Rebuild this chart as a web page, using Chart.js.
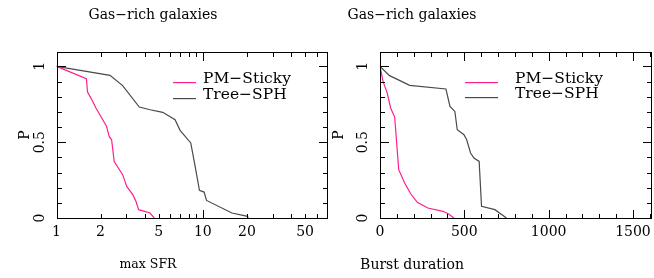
<!DOCTYPE html>
<html>
<head>
<meta charset="utf-8">
<script src="https://cdn.jsdelivr.net/npm/chart.js@4.4.1/dist/chart.umd.min.js"></script>
<style>
  body { margin: 0; background: #fff; }
  .panel { position: absolute; top: 0; height: 278px; }
</style>
</head>
<body>
<div class="panel" style="left:0;width:330px"><canvas id="sfrChart"></canvas></div>
<div class="panel" style="left:330px;width:324px"><canvas id="burstChart"></canvas></div>
<script>
// left panel: max SFR (log axis)
const pmSfrX = [1, 1.60, 1.63, 1.72, 1.86, 2.07, 2.20, 2.29, 2.38, 2.48, 2.83, 3.02, 3.32, 3.49, 3.64, 4.36, 4.66];
const pmSfrY = [1, 0.919, 0.831, 0.791, 0.726, 0.648, 0.604, 0.538, 0.516, 0.373, 0.286, 0.208, 0.154, 0.110, 0.055, 0.033, 0];
const treeSfrX = [1, 2.32, 2.83, 3.68, 4.36, 5.32, 6.46, 6.99, 8.27, 8.86, 9.48, 10.2, 10.6, 15.8, 20.2, 20.4];
const treeSfrY = [1, 0.941, 0.873, 0.732, 0.714, 0.697, 0.648, 0.578, 0.495, 0.340, 0.182, 0.171, 0.116, 0.033, 0.011, 0];

// right panel: burst duration
const pmBurstX = [0, 18, 43, 63, 87, 111, 146, 182, 221, 284, 373, 407, 438];
const pmBurstY = [1, 0.901, 0.824, 0.726, 0.666, 0.319, 0.231, 0.160, 0.103, 0.066, 0.044, 0.026, 0];
const treeBurstX = [0, 57, 176, 391, 415, 444, 458, 498, 514, 537, 557, 588, 602, 681, 750];
const treeBurstY = [1, 0.939, 0.875, 0.851, 0.736, 0.703, 0.582, 0.549, 0.516, 0.429, 0.396, 0.373, 0.077, 0.055, 0];

const sfrTickLabels = [1, 2, 5, 10, 20, 50];
const sfrMajorTicks = [1, 10];
const sfrMinorTicks = [2, 3, 4, 5, 6, 7, 8, 9, 20, 30, 40, 50, 60, 70];
const burstTickLabels = [0, 500, 1000, 1500];
const burstMajorTicks = [0, 500, 1000, 1500];
const burstMinorTicks = [100, 200, 300, 400, 600, 700, 800, 900, 1100, 1200, 1300, 1400, 1600];
const pTickLabels = [0, 0.5, 1];
const pMajorTicks = [0, 0.5, 1];
const pMinorTicks = [0.1, 0.2, 0.3, 0.4, 0.6, 0.7, 0.8, 0.9];

const seriesNames = ['PM−Sticky', 'Tree−SPH'];
const PINK = '#ff1f8f', GRAY = '#4a4a4a';
const FONT = '"DejaVu Serif", "Liberation Serif", serif';

const toPoints = (xs, ys) => xs.map((x, i) => ({ x, y: ys[i] }));

const framePlugin = {
  id: 'frame',
  afterDraw(chart) {
    const o = chart.options.frameCfg;
    const { ctx, chartArea: a } = chart;
    const xs = chart.scales.x, ys = chart.scales.y;
    const L = Math.round(a.left), R = Math.round(a.right), T = Math.round(a.top), B = Math.round(a.bottom);
    ctx.save();
    ctx.fillStyle = '#000';
    // frame
    ctx.fillRect(L, T, R - L + 1, 1);
    ctx.fillRect(L, B, R - L + 1, 1);
    ctx.fillRect(L, T, 1, B - T + 1);
    ctx.fillRect(R, T, 1, B - T + 1);
    const xTick = (v, len) => {
      const px = Math.round(xs.getPixelForValue(v));
      if (px > R) return;
      ctx.fillRect(px, B - len, 1, len);
      ctx.fillRect(px, T + 1, 1, len);
    };
    const yTick = (v, len) => {
      const py = Math.round(ys.getPixelForValue(v));
      if (py < T) return;
      ctx.fillRect(L + 1, py, len, 1);
      ctx.fillRect(R - len, py, len, 1);
    };
    o.majorX.forEach(v => xTick(v, 8));
    o.minorX.forEach(v => xTick(v, 4));
    pMajorTicks.forEach(v => yTick(v, 8));
    pMinorTicks.forEach(v => yTick(v, 4));

    ctx.font = '14px ' + FONT;
    ctx.textAlign = 'center';
    ctx.textBaseline = 'middle';
    o.labelsX.forEach(v => ctx.fillText(String(v), xs.getPixelForValue(v), 232));
    pTickLabels.forEach(v => {
      ctx.save();
      ctx.translate(a.left - 16.5, ys.getPixelForValue(v));
      ctx.rotate(-Math.PI / 2);
      ctx.fillText(String(v), 0, 0);
      ctx.restore();
    });
    ctx.save();
    ctx.translate(o.pX, (a.top + a.bottom) / 2);
    ctx.rotate(-Math.PI / 2);
    ctx.fillText('P', 0, 0);
    ctx.restore();
    ctx.fillText(o.title, o.titleX, 15);
    ctx.font = o.xlabelFont + ' ' + FONT;
    ctx.fillText(o.xlabel, o.xlabelX, 265);

    // legend
    ctx.font = '15.5px ' + FONT;
    ctx.textAlign = 'left';
    ctx.textBaseline = 'alphabetic';
    chart.data.datasets.forEach((ds, i) => {
      const ly = o.legendY[i];
      ctx.fillStyle = ds.borderColor;
      ctx.fillRect(o.legendX[0], ly, o.legendX[1] - o.legendX[0], 1.2);
      ctx.fillStyle = '#000';
      ctx.fillText(ds.label, o.legendX[2], ly + 1);
    });
    ctx.restore();
  }
};

function makeChart(id, xScale, datasets, pad, frameCfg) {
  return new Chart(document.getElementById(id), {
    type: 'scatter',
    data: { datasets },
    options: {
      responsive: true,
      maintainAspectRatio: false,
      animation: false,
      devicePixelRatio: 1,
      layout: { padding: pad },
      frameCfg,
      plugins: { legend: { display: false }, tooltip: { enabled: false } },
      scales: {
        x: Object.assign({ display: false }, xScale),
        y: { type: 'linear', min: 0, max: 1.095, display: false }
      },
      elements: { point: { radius: 0 }, line: { tension: 0, borderWidth: 1.2 } }
    },
    plugins: [framePlugin]
  });
}

function lineSet(label, pts, color) {
  return { label, data: pts, showLine: true, borderColor: color, backgroundColor: color, fill: false };
}

makeChart('sfrChart', { type: 'logarithmic', min: 1, max: 70 }, [
  lineSet(seriesNames[0], toPoints(pmSfrX, pmSfrY), PINK),
  lineSet(seriesNames[1], toPoints(treeSfrX, treeSfrY), GRAY)
], { left: 56.5, top: 52, right: 3.5, bottom: 60 }, {
  labelsX: sfrTickLabels, majorX: sfrMajorTicks, minorX: sfrMinorTicks,
  title: 'Gas−rich galaxies', titleX: 153, xlabel: 'max SFR', xlabelFont: '12.5px', xlabelX: 148, pX: 25,
  legendX: [173, 196, 203], legendY: [82, 98]
});

makeChart('burstChart', { type: 'linear', min: 0, max: 1604 }, [
  lineSet(seriesNames[0], toPoints(pmBurstX, pmBurstY), PINK),
  lineSet(seriesNames[1], toPoints(treeBurstX, treeBurstY), GRAY)
], { left: 50, top: 52, right: 3.5, bottom: 60 }, {
  labelsX: burstTickLabels, majorX: burstMajorTicks, minorX: burstMinorTicks,
  title: 'Gas−rich galaxies', titleX: 82, xlabel: 'Burst duration', xlabelFont: '14px', xlabelX: 82, pX: 9,
  legendX: [135, 168, 185], legendY: [82, 97]
});
</script>
</body>
</html>
